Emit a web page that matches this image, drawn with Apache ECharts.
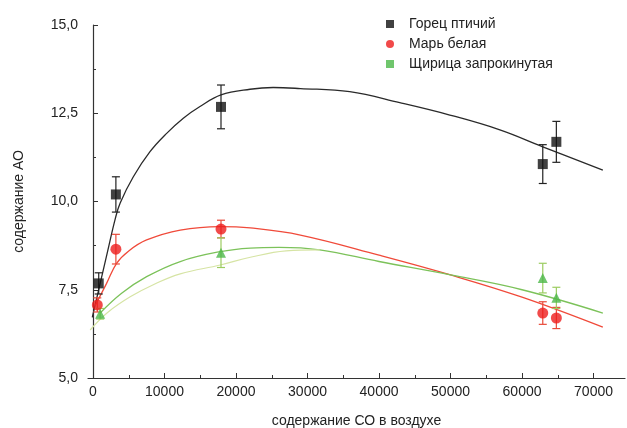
<!DOCTYPE html>
<html><head><meta charset="utf-8">
<script src="https://cdn.jsdelivr.net/npm/echarts@6/dist/echarts.min.js"></script>
<style>html,body{margin:0;padding:0;background:#fff}#c{width:627px;height:428px}</style>
</head><body><div id="c"></div>
<script>
// Data: [x, y, error]
const seriesNames = ['Горец птичий', 'Марь белая', 'Щирица запрокинутая'];
const gorecPoints = [[800, 7.68, 0.3], [3200, 10.2, 0.5], [17900, 12.68, 0.62], [62900, 11.06, 0.55], [64800, 11.69, 0.58]];
const marPoints = [[600, 7.07, 0.2], [3200, 8.65, 0.42], [17900, 9.22, 0.25], [62900, 6.84, 0.32], [64800, 6.70, 0.3]];
const shchPoints = [[1000, 6.82, 0.15], [17900, 8.55, 0.42], [62900, 7.83, 0.42], [64800, 7.27, 0.3]];
// fitted curves
const gorecCurve = [[-100, 6.72], [1000, 7.68], [2000, 8.55], [3100, 9.5], [3800, 9.96], [5640, 10.7], [7970, 11.41], [10300, 11.93], [12630, 12.36], [14960, 12.69], [17900, 13.02], [21960, 13.18], [25200, 13.23], [29000, 13.2], [35900, 13.11], [42900, 12.8], [49900, 12.45], [56900, 12.03], [62900, 11.55], [71300, 10.89]];
const marCurve = [[300, 7.05], [1900, 7.68], [3300, 8.25], [5000, 8.6], [7500, 8.91], [12200, 9.19], [17800, 9.29], [22000, 9.25], [29000, 9.05], [40000, 8.48], [50000, 7.92], [60000, 7.29], [71300, 6.44]];
const shchCurve = [[1000, 6.84], [4000, 7.4], [7500, 7.87], [12200, 8.3], [17800, 8.58], [22000, 8.68], [26000, 8.7], [31700, 8.63], [40000, 8.3], [50000, 7.92], [60000, 7.5], [71300, 6.84]];
const shchCurve2 = [[-400, 6.36], [2000, 6.85], [5200, 7.3], [8500, 7.65], [12200, 7.95], [17800, 8.2], [22000, 8.42], [27000, 8.6], [31700, 8.63]];
const xLabels = [0, 10000, 20000, 30000, 40000, 50000, 60000, 70000];
const xMinorTicks = [5000, 15000, 25000, 35000, 45000, 55000, 65000];

const colors = ['#111111', '#ee1d1d', '#4cb848'];
const lineColors = ['#2a2a2a', '#f04a3a', '#7cc25a'];

function errRender(color) {
  return function (params, api) {
    const x = api.value(0), y = api.value(1), e = api.value(2);
    const top = api.coord([x, y + e]);
    const bot = api.coord([x, y - e]);
    const w = 4;
    const st = { stroke: color, lineWidth: 1.2 };
    return { type: 'group', children: [
      { type: 'line', shape: { x1: top[0], y1: top[1], x2: bot[0], y2: bot[1] }, style: st },
      { type: 'line', shape: { x1: top[0] - w, y1: top[1], x2: top[0] + w, y2: top[1] }, style: st },
      { type: 'line', shape: { x1: bot[0] - w, y1: bot[1], x2: bot[0] + w, y2: bot[1] }, style: st }
    ]};
  };
}

const font = 'Liberation Sans, Arial, sans-serif';
const chart = echarts.init(document.getElementById('c'));
chart.setOption({
  animation: false,
  backgroundColor: '#fff',
  grid: { left: 88, right: 2, top: 25, bottom: 50, outerBoundsMode: 'none', containLabel: false },
  legend: {
    orient: 'vertical', left: 381, top: 12, itemWidth: 8, itemHeight: 8, itemGap: 6,
    data: [
      { name: seriesNames[0], icon: 'rect' },
      { name: seriesNames[1], icon: 'circle' },
      { name: seriesNames[2], icon: 'rect' }
    ],
    textStyle: { fontFamily: font, fontSize: 14, color: '#222', padding: [0, 0, 0, 10] }
  },
  xAxis: [{
    type: 'value', min: -700, max: 74400,
    name: 'содержание СО в воздухе', nameLocation: 'middle', nameGap: 36,
    nameTextStyle: { fontFamily: font, fontSize: 14, color: '#222' },
    axisLine: { lineStyle: { color: '#333', width: 1.2 } },
    axisTick: { inside: true, length: 5, customValues: xLabels, lineStyle: { color: '#333' } },
    axisLabel: { customValues: xLabels, fontFamily: font, fontSize: 14, color: '#222', margin: 7,
      formatter: v => String(v) },
    splitLine: { show: false }
  }, {
    type: 'value', min: -700, max: 74400, position: 'bottom',
    axisLine: { show: false },
    axisTick: { inside: true, length: 3, customValues: xMinorTicks, lineStyle: { color: '#333' } },
    axisLabel: { show: false },
    splitLine: { show: false }
  }],
  yAxis: {
    type: 'value', min: 5, max: 15, interval: 2.5,
    name: 'содержание АО', nameLocation: 'middle', nameGap: 62,
    nameTextStyle: { fontFamily: font, fontSize: 14, color: '#222' },
    axisLine: { show: true, lineStyle: { color: '#333', width: 1.2 } },
    axisTick: { show: true, inside: true, length: 5, lineStyle: { color: '#333' } },
    minorTick: { show: true, splitNumber: 2, length: 3, lineStyle: { color: '#333' } },
    axisLabel: { fontFamily: font, fontSize: 14, color: '#222', margin: 10,
      formatter: v => v.toFixed(1).replace('.', ',') },
    splitLine: { show: false }
  },
  series: [
    { type: 'line', data: gorecCurve, smooth: 0.4, symbol: 'none', lineStyle: { color: lineColors[0], width: 1.3 }, z: 1 },
    { type: 'line', data: marCurve, smooth: 0.4, symbol: 'none', lineStyle: { color: lineColors[1], width: 1.3 }, z: 1 },
    { type: 'line', data: shchCurve, smooth: 0.4, symbol: 'none', lineStyle: { color: lineColors[2], width: 1.3 }, z: 1 },
    { type: 'line', data: shchCurve2, smooth: 0.4, symbol: 'none', lineStyle: { color: '#d6e4a4', width: 1.2 }, z: 1 },
    { type: 'custom', data: gorecPoints, renderItem: errRender('#222'), z: 2 },
    { type: 'custom', data: marPoints, renderItem: errRender('#e84a3a'), z: 2 },
    { type: 'custom', data: shchPoints, renderItem: errRender('#9ccc60'), z: 2 },
    { name: seriesNames[0], type: 'scatter', data: gorecPoints, symbol: 'rect', symbolSize: 10, itemStyle: { color: colors[0] }, z: 3 },
    { name: seriesNames[1], type: 'scatter', data: marPoints, symbol: 'circle', symbolSize: 11, itemStyle: { color: colors[1] }, z: 3 },
    { name: seriesNames[2], type: 'scatter', data: shchPoints, symbol: 'triangle', symbolSize: 10, itemStyle: { color: colors[2] }, z: 3 }
  ]
});
</script></body></html>
